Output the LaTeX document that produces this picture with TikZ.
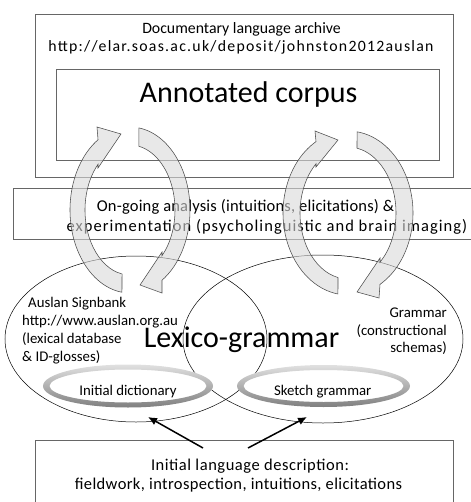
\documentclass[tikz,border=0pt]{standalone}
\usepackage{fontspec}
\setmainfont{Carlito}
\usetikzlibrary{arrows.meta,shapes.geometric,calc}
\newcommand{\lsp}[2]{{\addfontfeature{LetterSpace=#1}#2}}
\begin{document}
\begin{tikzpicture}[x=1pt,y=1pt,
  box/.style={draw=black!60, line width=0.6pt, inner sep=0pt, rectangle},
  tmid/.style={inner sep=0pt, font=\fontsize{16.5}{19}\selectfont},
  ttop/.style={inner sep=0pt, font=\fontsize{15.8}{19}\selectfont},
  tsmall/.style={inner sep=0pt, font=\fontsize{14.8}{18}\selectfont},
  tbig/.style={inner sep=0pt, font=\fontsize{30}{34}\selectfont},
  bigell/.style={draw=black, line width=0.5pt, ellipse, inner sep=0pt},
  ringinner/.style={fill=white},
  circarrow/.style={fill=black!15, fill opacity=0.6, draw=black!70, line width=0.55pt, line join=miter},
  blackarrow/.style={draw=black, line width=1.5pt, -{Latex[length=9pt,width=8pt]}}
]
\useasboundingbox (0,0) rectangle (470,-502);

% boxes
\node[box, minimum width=418pt, minimum height=163pt] (archive) at (244,-95.5) {};
\node[box, minimum width=383pt, minimum height=91pt] (corpusbox) at (247.5,-114.5) {};
\node[box, minimum width=467pt, minimum height=51pt] (analysis) at (246.5,-213.5) {};
\node[box, minimum width=418pt, minimum height=80pt] (descbox) at (244,-480) {};

% box texts
\node[ttop, anchor=base] (arch1) at (241.5,-34) {Documentary language archive};
\node[ttop, anchor=base] (arch2) at (241,-52) {\lsp{8}{http://elar.soas.ac.uk/deposit/johnston2012auslan}};
\node[tbig, anchor=base] (corpus) at (248.5,-103) {Annotated corpus};
\node[tmid, anchor=base] (mid1) at (245.5,-212) {\lsp{1.2}{On-going analysis (intuitions, elicitations) \&}};
\node[tmid, anchor=base] (mid2) at (267,-231) {\lsp{6.3}{experimentation (psycholinguistic and brain imaging)}};
\node[tmid, anchor=base] (desc1) at (250,-470) {\lsp{3.3}{Initial language description:}};
\node[tmid, anchor=base] (desc2) at (238.5,-489.3) {\lsp{2.3}{fieldwork, introspection, intuitions, elicitations}};

% big ellipses
\node[bigell, minimum width=262pt, minimum height=166pt] (lexell) at (136,-339) {};
\node[bigell, minimum width=280pt, minimum height=168pt] (gramell) at (323,-339) {};

% ellipse texts
\node[tsmall, anchor=base west] (sb1) at (28,-307) {Auslan Signbank};
\node[tsmall, anchor=base west] (sb2) at (22,-325.5) {http://www.auslan.org.au};
\node[tsmall, anchor=base west] (sb3) at (22,-343.3) {(lexical database};
\node[tsmall, anchor=base west] (sb4) at (22,-361.7) {\& ID-glosses)};
\node[tbig, anchor=base] (lexico) at (241.5,-347) {Lexico-grammar};
\node[tsmall, anchor=base east] (gr1) at (447,-317.3) {Grammar};
\node[tsmall, anchor=base east] (gr2) at (447,-335.7) {(constructional};
\node[tsmall, anchor=base east] (gr3) at (447,-352.7) {schemas)};

% rings
\fill[ringinner] (128,-386) ellipse[x radius=85pt, y radius=21.5pt];
\shade[top color=black!12, bottom color=black!50, even odd rule]
  (128,-386) ellipse[x radius=85pt, y radius=21.5pt]
  (128,-386) ellipse[x radius=78.5pt, y radius=16.5pt];
\fill[ringinner] (323.5,-386) ellipse[x radius=86.5pt, y radius=21pt];
\shade[top color=black!12, bottom color=black!50, even odd rule]
  (323.5,-386) ellipse[x radius=86.5pt, y radius=21pt]
  (323.5,-386) ellipse[x radius=80pt, y radius=16pt];
\node[tsmall, anchor=base] (dict) at (128,-395) {Initial dictionary};
\node[tsmall, anchor=base] (sketch) at (322.7,-395) {Sketch grammar};

% black arrows
\coordinate (a1s) at (203,-448);
\coordinate (a1e) at (148,-417);
\coordinate (a2s) at (248,-448);
\coordinate (a2e) at (307,-417);
\draw[blackarrow] (a1s) -- (a1e);
\draw[blackarrow] (a2s) -- (a2e);

% circular arrows
\coordinate (C1) at (130,-210);
\coordinate (C2) at (348,-213);
\path[circarrow] ($(C1)+(122.2:60pt and 83pt)$)
  arc[start angle=122.2, end angle=262.3, x radius=60pt, y radius=83pt]
  -- ($(C1)+(259.8:45pt and 65pt)$)
  arc[start angle=259.8, end angle=135.3, x radius=45pt, y radius=65pt]
  -- (98,-168) -- (121,-134) -- (97,-127) -- cycle;
\path[circarrow] ($(C1)+(81.4:60pt and 83pt)$)
  arc[start angle=81.4, end angle=-57.8, x radius=60pt, y radius=83pt]
  -- (162,-293) -- (140,-285) -- (162,-252)
  -- ($(C1)+(-44.7:45pt and 65pt)$)
  arc[start angle=-44.7, end angle=78.5, x radius=45pt, y radius=65pt] -- cycle;
\path[circarrow] ($(C2)+(119.5:65pt and 82pt)$)
  arc[start angle=119.5, end angle=261.1, x radius=65pt, y radius=82pt]
  -- ($(C2)+(258:48pt and 66pt)$)
  arc[start angle=258, end angle=131.8, x radius=48pt, y radius=66pt]
  -- (316,-167) -- (338,-140) -- (315,-131) -- cycle;
\path[circarrow] ($(C2)+(82:65pt and 82pt)$)
  arc[start angle=82, end angle=-60.5, x radius=65pt, y radius=82pt]
  -- (379,-298) -- (357,-292) -- (380,-258)
  -- ($(C2)+(-48.2:48pt and 66pt)$)
  arc[start angle=-48.2, end angle=79.2, x radius=48pt, y radius=66pt] -- cycle;
\end{tikzpicture}
\end{document}
